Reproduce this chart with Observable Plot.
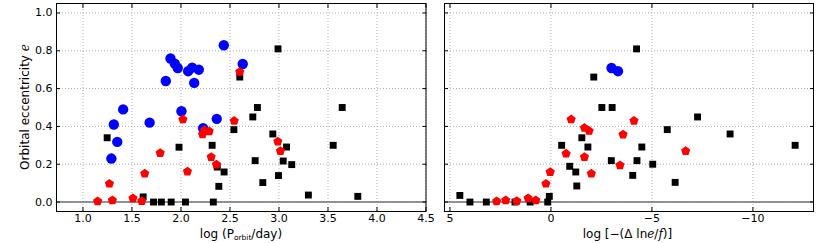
<!DOCTYPE html>
<html>
<head>
<meta charset="utf-8">
<script src="https://cdn.jsdelivr.net/npm/d3@7"></script>
<script src="https://cdn.jsdelivr.net/npm/@observablehq/plot@0.6"></script>
<style>
  body { margin: 0; background: #fff; }
  #wrap { position: relative; width: 830px; height: 243px; font-family: "DejaVu Sans", sans-serif; }
  #wrap svg { position: absolute; top: 0; overflow: visible; }
</style>
</head>
<body>
<div id="wrap"></div>
<script>
// ---- Left panel: log P_orbit vs eccentricity ----
const leftBlueX = [2.437, 1.893, 1.937, 1.967, 2.073, 2.114, 2.182, 1.845, 2.135, 2.63, 1.41, 2.005, 1.68, 2.365, 1.315, 1.35, 1.29, 2.226];
const leftBlueE = [0.829, 0.759, 0.732, 0.709, 0.692, 0.711, 0.700, 0.640, 0.630, 0.730, 0.49, 0.48, 0.42, 0.44, 0.41, 0.318, 0.23, 0.39];

const leftRedX = [2.60, 2.02, 2.543, 2.24, 2.288, 2.22, 1.788, 2.308, 2.362, 2.066, 1.63, 1.27, 1.15, 1.30, 1.51, 1.60, 2.988, 3.015];
const leftRedE = [0.688, 0.437, 0.429, 0.379, 0.374, 0.358, 0.259, 0.238, 0.198, 0.161, 0.15, 0.097, 0.004, 0.009, 0.02, 0.005, 0.32, 0.27];

const leftBlackX = [2.60, 2.78, 1.247, 2.733, 2.54, 2.318, 1.98, 2.757, 2.37, 2.44, 2.386, 1.614, 1.72, 1.80, 1.90, 2.046, 2.33, 2.99, 3.645, 2.937, 3.077, 3.043, 3.13, 3.553, 2.995, 2.835, 3.30, 3.804];
const leftBlackE = [0.661, 0.50, 0.34, 0.45, 0.383, 0.30, 0.29, 0.219, 0.185, 0.159, 0.083, 0.027, 0, 0, 0, 0, 0, 0.81, 0.50, 0.36, 0.291, 0.217, 0.198, 0.30, 0.14, 0.103, 0.037, 0.03];

// ---- Right panel: log[-(Δ ln e/f)] vs eccentricity ----
const rightBlueX = [-3.0, -3.32];
const rightBlueE = [0.709, 0.692];

const rightRedX = [-1.0, -1.66, -1.89, -0.75, -1.66, -3.57, -4.11, -3.42, -2.0, 0.035, 0.25, 1.13, 0.75, 1.69, 2.24, 2.69, -6.67];
const rightRedE = [0.437, 0.392, 0.376, 0.256, 0.238, 0.357, 0.43, 0.194, 0.15, 0.159, 0.097, 0.02, 0.009, 0.005, 0.009, 0.004, 0.27];

const rightBlackX = [-4.24, -2.12, -2.52, -3.03, -7.26, -0.53, -1.53, -1.83, -0.93, -1.23, -1.28, -2.99, -4.05, -4.26, -4.5, 4.51, 4.01, 3.2, 1.78, 1.03, 0.16, 0.08, -5.76, -8.87, -12.09, -5.04, -6.15];
const rightBlackE = [0.81, 0.661, 0.50, 0.50, 0.45, 0.30, 0.34, 0.291, 0.189, 0.159, 0.085, 0.219, 0.141, 0.219, 0.291, 0.035, 0, 0, 0, 0, 0, 0.03, 0.383, 0.36, 0.30, 0.20, 0.104];

// ---- Tick labels ----
const leftXTicks = [1.0, 1.5, 2.0, 2.5, 3.0, 3.5, 4.0, 4.5];
const rightXTicks = [5, 0, -5, -10];
const yTicks = [0.0, 0.2, 0.4, 0.6, 0.8, 1.0];

const zip = (xs, ys) => xs.map((x, i) => ({x, e: ys[i]}));

// custom pentagon symbol
const pentagon = {
  draw(context, size) {
    const R = Math.sqrt(size / 2.3776);
    for (let k = 0; k < 5; k++) {
      const a = -Math.PI / 2 + k * 2 * Math.PI / 5;
      const px = R * Math.cos(a), py = R * Math.sin(a);
      if (k === 0) context.moveTo(px, py); else context.lineTo(px, py);
    }
    context.closePath();
  }
};

const fmtMinus = d => (d < 0 ? "\u2212" + Math.abs(d) : String(d));

function panel({width, mLeft, mRight, xDomain, xTicks, xFmt, blue, red, black, yLabels}) {
  const gridStyle = {stroke: "#b0b0b0", strokeOpacity: 1, strokeDasharray: "1,2", strokeWidth: 1};
  return Plot.plot({
    width, height: 243,
    marginLeft: mLeft, marginRight: mRight, marginTop: 3, marginBottom: 32,
    style: {fontSize: "11px", fontFamily: "DejaVu Sans, sans-serif", color: "#000", background: "transparent"},
    x: {domain: xDomain, label: null},
    y: {domain: [-0.05, 1.05], label: null},
    marks: [
      Plot.gridX(xTicks, gridStyle),
      Plot.gridY(yTicks, gridStyle),
      Plot.ruleY([0], {stroke: "#707070", strokeWidth: 1.6}),
      Plot.dot(black, {x: "x", y: "e", symbol: "square", r: 3.9, fill: "#000", stroke: "none"}),
      Plot.dot(blue, {x: "x", y: "e", symbol: "circle", r: 5.2, fill: "#0000ff", stroke: "none"}),
      Plot.dot(red, {x: "x", y: "e", symbol: pentagon, r: 4.2, fill: "#ff0000", stroke: "none"}),
      Plot.axisX(xTicks, {anchor: "bottom", tickSize: -4, tickPadding: 7, tickFormat: xFmt, label: null, stroke: "#000"}),
      Plot.axisX(xTicks, {anchor: "top", tickSize: -4, tickFormat: () => "", label: null, stroke: "#000"}),
      Plot.axisY(yTicks, {anchor: "left", tickSize: -4, tickPadding: 8, tickFormat: yLabels ? d3.format(".1f") : () => "", label: null, stroke: "#000"}),
      Plot.axisY(yTicks, {anchor: "right", tickSize: -4, tickFormat: () => "", label: null, stroke: "#000"}),
      Plot.frame({stroke: "#000", strokeWidth: 1})
    ]
  });
}

const wrap = document.getElementById("wrap");

const left = panel({
  width: 430, mLeft: 56, mRight: 4.5, xDomain: [0.73, 4.5], xTicks: leftXTicks, xFmt: d3.format(".1f"),
  blue: zip(leftBlueX, leftBlueE), red: zip(leftRedX, leftRedE), black: zip(leftBlackX, leftBlackE), yLabels: true
});
left.style.left = "0px";
wrap.appendChild(left);

const right = panel({
  width: 400, mLeft: 14, mRight: 17, xDomain: [5.27, -13.0], xTicks: rightXTicks, xFmt: fmtMinus,
  blue: zip(rightBlueX, rightBlueE), red: zip(rightRedX, rightRedE), black: zip(rightBlackX, rightBlackE), yLabels: false
});
right.style.left = "430px";
wrap.appendChild(right);

// axis titles
const ls = d3.select(left);
const t1 = ls.append("text").attr("x", 241).attr("y", 237.5).attr("text-anchor", "middle")
  .attr("font-size", 12).attr("font-family", "DejaVu Sans, sans-serif").attr("fill", "#000");
t1.append("tspan").text("log (P");
t1.append("tspan").attr("font-size", 7.5).attr("dy", 2).text("orbit");
t1.append("tspan").attr("dy", -2).text("/day)");

const yt = ls.append("text").attr("transform", "translate(29,107) rotate(-90)").attr("text-anchor", "middle")
  .attr("font-size", 12).attr("font-family", "DejaVu Sans, sans-serif").attr("fill", "#000");
yt.append("tspan").text("Orbital eccentricity ");
yt.append("tspan").attr("font-style", "italic").attr("font-family", "DejaVu Serif, serif").text("e");

const rs = d3.select(right);
const t2 = rs.append("text").attr("x", 197.5).attr("y", 237.5).attr("text-anchor", "middle")
  .attr("font-size", 12).attr("font-family", "DejaVu Sans, sans-serif").attr("fill", "#000");
t2.append("tspan").text("log [\u2212(\u0394 ln");
t2.append("tspan").attr("font-style", "italic").attr("font-family", "DejaVu Serif, serif").text("e");
t2.append("tspan").text("/");
t2.append("tspan").attr("font-style", "italic").attr("font-family", "DejaVu Serif, serif").text("f");
t2.append("tspan").text(")]");
</script>
</body>
</html>
